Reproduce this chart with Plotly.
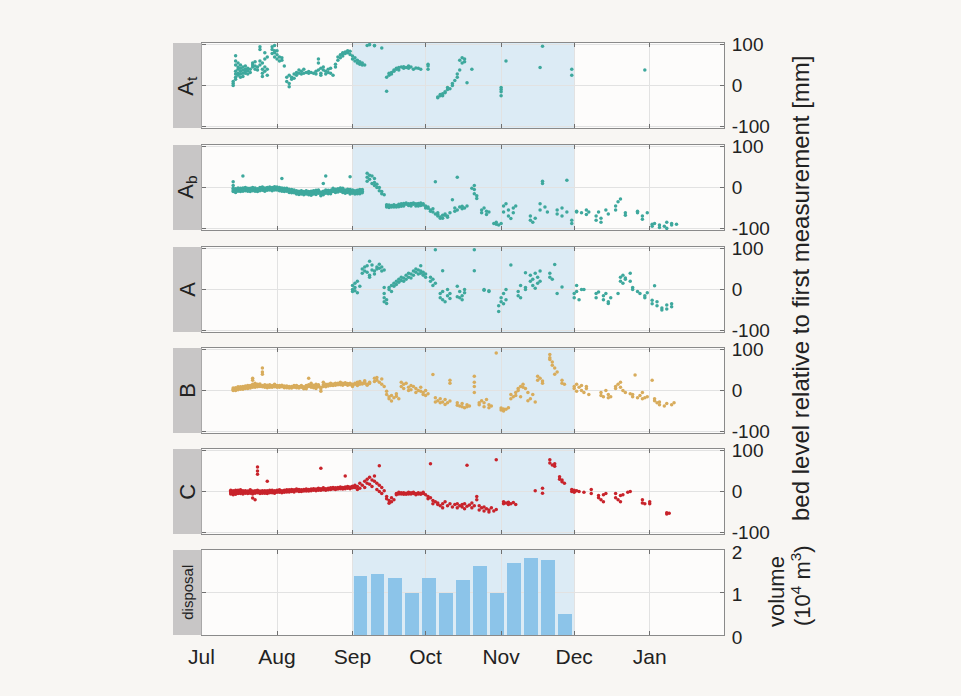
import pandas as pd
import plotly.graph_objects as go

# ---------------- data ----------------
ORIGIN = "2013-07-01"                      # day 0 of the day offsets below
X_END = "2014-01-31 12:00"
MONTH_LABELS = ["Jul", "Aug", "Sep", "Oct", "Nov", "Dec", "Jan"]
MONTH_STARTS = ["2013-07-01", "2013-08-01", "2013-09-01", "2013-10-01",
                "2013-11-01", "2013-12-01", "2014-01-01"]
DISPOSAL_PERIOD = ["2013-09-01", "2013-12-01"]
PANEL_LABELS = ["A<sub>t</sub>", "A<sub>b</sub>", "A", "B", "C", "disposal"]

# (day since 1 Jul, [bed level values in mm])
AT = [(13, [0, 5, 10]), (14, [15, 20, 28, 35, 50, 60, 73]), (15, [25, 30, 40, 45, 55]),
      (16, [20, 28, 35, 42, 50]), (17, [22, 30, 38, 45]), (18, [30, 35, 40, 48]),
      (19, [28, 36, 42]), (20, [32, 40]), (21, [45, 50, 55]), (22, [40, 48, 58]),
      (23, [38, 45]), (24, [50, 60, 88, 95]), (25, [22, 30, 40, 55]), (26, [35, 45, 65, 80]),
      (27, [25, 40, 70]), (29, [78, 88, 95]), (30, [70, 80, 85, 98]), (31, [65, 75, 85]),
      (32, [60, 70]), (33, [62, 68]), (34, [48]), (35, [10, 20]), (36, [-3, 5, 25]),
      (37, [15, 20]), (38, [18, 28]), (39, [25, 32]), (40, [30, 38]), (41, [28, 35]),
      (42, [30, 40]), (43, [32]), (44, [30, 34]), (45, [32]), (46, [30]), (47, [28, 35]),
      (48, [38, 55, 65]), (49, [25, 30, 42]), (50, [38, 45]), (51, [28, 35]), (52, [32, 40]),
      (53, [30, 42]), (54, [25]), (55, [45, 52]), (56, [62, 70]), (57, [68, 75]),
      (58, [72, 78, 80]), (59, [78, 82]), (60, [80, 85]), (61, [76, 84]), (62, [65, 72]),
      (63, [60, 68]), (64, [55, 62]), (65, [52, 58]), (66, [50, 55]), (67, [50]),
      (68, [98]), (69, [100]), (71, [97, 98]), (74, [92]), (76, [-14, 20]), (77, [25, 30]),
      (78, [28, 32]), (79, [35, 38]), (80, [40, 42]), (81, [38, 44]), (82, [45]),
      (83, [42, 46]), (84, [44]), (85, [42, 48]), (86, [45]), (87, [40]), (88, [43]),
      (89, [42]), (90, [40]), (93, [40, 48, 52]), (97, [-30, -28]), (98, [-25, -22]),
      (99, [-25, -20]), (100, [-18, -15]), (101, [-10, -5]), (102, [-8]), (103, [0, 5]),
      (104, [12]), (105, [20, 28]), (106, [38, 62]), (107, [55, 68]), (108, [58, 65]),
      (109, [7]), (111, [40]), (123, [-25, -15, -10, -5]), (125, [60]), (139, [44]),
      (140, [96]), (152, [25, 40]), (182, [38])]

AB = [(13, [-10, -6, -2, 5, 14]), (14, [-12, -7, -3]), (15, [-9, -5, -1]), (16, [-10, -6, -2]),
      (17, [-9, -5, -1, 28]), (18, [-8, -4, 0]), (19, [-9, -5, -2]), (20, [-10, -6, -2]),
      (21, [-8, -4, 0]), (22, [-9, -5, -1]), (23, [-10, -6, -3]), (24, [-8, -4, 0]),
      (25, [-7, -3, 1]), (26, [-9, -5, -1]), (27, [-7, -3, 0]), (28, [-6, -2, 1]),
      (29, [-8, -4, 0]), (30, [-6, -2, 2]), (31, [-6, -2, 1]), (32, [-8, -4, 0]),
      (33, [-9, -5, -1, 22]), (34, [-10, -6, -2]), (35, [-9, -5, -2]), (36, [-12, -8, -4]),
      (37, [-13, -9, -5]), (38, [-13, -9, -6]), (39, [-16, -12, -8]), (40, [-17, -13, -9]),
      (41, [-16, -12, -8]), (42, [-18, -14, -10]), (43, [-16, -12, -8]), (44, [-18, -14, -10]),
      (45, [-19, -14, -9]), (46, [-16, -12, -8]), (47, [-17, -12, -7]), (48, [-14, -10, -6]),
      (49, [-20, -16, -11]), (50, [-18, -14, -9, 10]), (51, [-14, -10, -6, 28]),
      (52, [-15, -11, -7]), (53, [-15, -11, -7]), (54, [-10, -6, -2]), (55, [-12, -8, -4]),
      (56, [-11, -7, -3]), (57, [-9, -5, -1]), (58, [-12, -7, -2]), (59, [-14, -10, -6]),
      (60, [-12, -8, -4]), (61, [-16, -10, -5, 26]), (62, [-14, -10, -6]), (63, [-16, -12, -8]),
      (64, [-15, -11, -7]), (65, [-15, -10, -5]), (66, [-13, -9, -5]), (68, [15, 25, 35]),
      (69, [20, 30]), (70, [10, 28]), (71, [5, 12, 22]), (72, [0, 8]), (73, [-8, 0]),
      (74, [-15, -10]), (75, [-18]), (76, [-48, -45, -42]), (77, [-49, -46, -43]),
      (78, [-48, -44]), (79, [-48, -45, -42]), (80, [-48, -44]), (81, [-47, -44, -41]),
      (82, [-46, -40]), (83, [-45, -42, -39]), (84, [-41, -38]), (85, [-44, -40]),
      (86, [-45, -42, -39]), (87, [-41, -38]), (88, [-45, -40]), (89, [-45, -42, -39]),
      (90, [-44, -38]), (91, [-43, -40]), (92, [-50, -45]), (93, [-51, -48]), (94, [-58, -55]),
      (95, [-60, -52]), (96, [-65, 14]), (97, [-70, -66, -62]), (98, [-75, -72]),
      (99, [-75, -68]), (100, [-68, -65]), (101, [-73, -70]), (102, [-62]), (103, [-30]),
      (104, [-58, -50]), (105, [-55, 25]), (106, [-48]), (107, [-52, -46]), (108, [-50]),
      (109, [-45]), (111, [-2]), (112, [-15, -5, 5]), (113, [-27, -20]), (115, [-62, -55]),
      (116, [-50]), (117, [-66, -58]), (118, [-60]), (120, [-88]), (121, [-90, -85]),
      (122, [-92]), (123, [-88]), (124, [-60, -45]), (125, [-40]), (126, [-70, -55]),
      (127, [-76]), (128, [-62, -50]), (129, [-45]), (135, [-80, -70]), (136, [-85]),
      (137, [-75]), (139, [-55, -40]), (140, [10, 15]), (141, [-48]), (142, [-60]),
      (146, [-65, -55]), (148, [-70, -50]), (150, [-60, 18]), (152, [-88, -80]),
      (154, [-60, -58]), (156, [-62]), (158, [-66, -55]), (159, [-60]), (162, [-80, -70]),
      (163, [-60]), (164, [-85, -75]), (166, [-55]), (167, [-65]), (170, [-55, -45]),
      (171, [-35]), (172, [-28]), (174, [-68, -62]), (179, [-62, -58]), (181, [-78, -70]),
      (183, [-62]), (185, [-95, -90]), (186, [-88]), (188, [-98, -92]), (190, [-95]),
      (191, [-100, -85]), (193, [-92, -88]), (195, [-90])]

A = [(62, [-5, 0, 10]), (63, [-3, 5, 15]), (64, [-8, 20]), (65, [8]), (66, [40, 50]),
     (67, [45, 55]), (68, [42, 58]), (69, [30, 35, 69]), (70, [48, 60]), (71, [38, 45]),
     (72, [50, 55]), (73, [52, 62]), (74, [45, 55]), (75, [-30, -20, -10, 5, 48]),
     (76, [-34, -25]), (77, [0, 5]), (78, [-5, 10]), (79, [8, 15]), (80, [12, 20]),
     (81, [18, 25]), (82, [22, 30]), (83, [20, 28]), (84, [25, 35]), (85, [30, 40]),
     (86, [28, 38]), (87, [35, 45]), (88, [42, 50]), (89, [38, 48]), (90, [40, 45, 58]),
     (91, [35, 42]), (92, [30, 38]), (94, [20, 30]), (95, [10, 25]), (96, [15, 97]),
     (98, [-20, -10]), (99, [-25, -5, 46]), (100, [-30]), (101, [-15, 0]), (102, [-22, -10]),
     (105, [-18, 8]), (106, [-20, -5]), (107, [-25, -15]), (108, [-8, 0]), (112, [46, 97]),
     (116, [-2, 0]), (118, [-5, -3]), (122, [-54, -40]), (123, [-30, -20]), (124, [-35, -10]),
     (125, [-25, 0]), (127, [60]), (130, [-15, -5]), (131, [-20, 10]), (133, [0, 5, 41]),
     (135, [20, 35]), (136, [10, 25]), (137, [3, 40]), (138, [15, 30]), (139, [20, 45]),
     (143, [30, 40]), (144, [25]), (145, [61]), (146, [-10]), (148, [6]),
     (153, [-20, -10]), (154, [-5, 10]), (155, [-25]), (156, [0]), (157, [0]),
     (162, [-20, -10]), (163, [-6]), (165, [-25, -15]), (166, [-10]), (167, [-34, -30]),
     (168, [-20]), (171, [-10]), (172, [20, 30]), (173, [15, 35]), (174, [25, 28]),
     (176, [20, 40]), (177, [0, 5]), (179, [-5]), (180, [-10]), (182, [-20, -15]),
     (183, [-8]), (185, [-35, -26]), (186, [9]), (187, [-40, -30]), (189, [-50, -45]),
     (191, [-48, -38]), (193, [-42, -35])]

B = [(13, [0, 3, 6]), (14, [0, 4, 7]), (15, [2, 6, 9]), (16, [3, 6, 9]), (17, [3, 6, 10]),
     (18, [5, 8, 11]), (19, [5, 8, 12]), (20, [6, 9, 12]), (21, [8, 12, 15, 25, 30]),
     (22, [8, 12, 18]), (23, [9, 12, 15]), (24, [10, 13, 16]), (25, [9, 12, 40, 45, 55]),
     (26, [8, 11, 14]), (27, [7, 10, 13]), (28, [8, 11, 14]), (29, [8, 10, 12]), (30, [9, 12, 15]),
     (31, [8, 10, 12]), (32, [8, 10, 12]), (33, [9, 11, 13]), (34, [7, 9, 11]), (35, [7, 9, 11]),
     (36, [6, 8, 10]), (37, [6, 8, 10]), (38, [8, 10, 12]), (39, [7, 9, 12]), (40, [6, 8, 10]),
     (41, [8, 10, 12]), (42, [4, 6, 9]), (43, [4, 8, 12]), (44, [10, 14, 30]), (45, [8, 12, 18]),
     (46, [7, 10, 13]), (47, [5, 10, 15]), (48, [9, 12, 14]), (49, [-2, 4, 8]),
     (50, [10, 14, 20]), (51, [9, 12, 15]), (52, [11, 13, 15]), (53, [12, 15, 18]),
     (54, [12, 14, 16]), (55, [13, 16, 18]), (56, [14, 16, 18]), (57, [14, 17, 20]),
     (58, [13, 16, 18]), (59, [15, 17, 19]), (60, [13, 15, 17]), (61, [14, 16, 18]),
     (62, [10, 13, 15]), (63, [15, 18]), (64, [12, 16, 20]), (65, [15, 18, 22]), (66, [16, 18]),
     (67, [18, 21, 24]), (68, [13, 15]), (69, [17, 20]), (71, [22, 30]), (72, [25, 32]),
     (73, [20]), (74, [15, 28]), (75, [10]), (76, [-10, -2]), (77, [-20, -15]),
     (78, [-26, -12]), (79, [-18]), (80, [-14, -8]), (81, [-20]), (82, [10, 20]), (83, [5, 15]),
     (84, [18]), (85, [0, 8]), (86, [2, 12]), (87, [10]), (88, [-5, 5]), (89, [0]),
     (90, [-2, 8]), (91, [-10, -5]), (92, [-12, 0]), (93, [-8]), (95, [39]), (96, [-28, -18]),
     (97, [-25]), (98, [-30, -20]), (99, [-28]), (100, [-34, -22]), (101, [-30]),
     (102, [-26, 18, 25]), (105, [-36, -30]), (106, [-38]), (107, [-40, -32]), (108, [-42]),
     (109, [-40, -35]), (110, [-38]), (112, [-5, 10, 20, 35]), (114, [-35, -30]), (115, [-25]),
     (116, [-40, -30]), (117, [-22]), (118, [-42, -35]), (119, [-38]), (121, [92]),
     (123, [-48, -43]), (124, [-50, -45]), (125, [-46]), (126, [-42]), (127, [-20, -10]),
     (128, [-15]), (129, [-12, -5]), (130, [0, 5]), (131, [-15, 10]), (132, [8, 15]), (133, [5]),
     (134, [-25, -5]), (135, [-20]), (136, [-10]), (137, [-28]), (138, [25, 35]), (139, [30]),
     (140, [18, 23]), (143, [76, 80, 88]), (144, [62, 70]), (145, [40, 55]), (146, [45]),
     (148, [18, 25]), (149, [15]), (153, [5, 10]), (154, [-2, 15]), (155, [8]), (156, [0, 12]),
     (157, [-5]), (158, [5, 10]), (159, [-10]), (164, [-12, -5]), (165, [-15]), (166, [0]),
     (167, [-18, -10]), (168, [-15]), (170, [5, 10]), (171, [15]), (172, [8, 20]), (173, [0]),
     (174, [-5]), (176, [-8]), (177, [-15, -10]), (178, [38]), (179, [-18]), (180, [-12]),
     (181, [-20, -5]), (182, [-18]), (183, [-15]), (185, [25]), (186, [-25, -20]), (187, [-30]),
     (188, [-35, -28]), (190, [-38]), (191, [-32]), (193, [-35]), (194, [-30])]

C = [(12, [-6, -3, 0, 3]), (13, [-8, -4, -1, 2]), (14, [-7, -3, 0, 3]), (15, [-5, -2, 1, 3]),
     (16, [-5, -2, 1, 4]), (17, [-6, -3, 0, 2]), (18, [-4, -1, 2]), (19, [-5, -2, 1]),
     (20, [-4, -1, 2, 4]), (21, [-16, -6, -2, 1]), (22, [-20, -4, -1, 2]),
     (23, [-3, 0, 3, 42, 50, 60]), (24, [-5, -2, 1]), (25, [-4, -1, 2]), (26, [-4, -1, 2]),
     (27, [-5, -1, 2, 25]), (28, [-3, 0, 3]), (29, [-3, 0, 3]), (30, [-4, -1, 2]),
     (31, [-2, 1, 3]), (32, [-2, 1, 4]), (33, [-3, 0, 2]), (34, [-2, 1, 3]), (35, [-1, 2, 4]),
     (36, [-1, 1, 4]), (37, [0, 2, 5]), (38, [-1, 2, 4]), (39, [1, 3, 6]), (40, [0, 3, 5]),
     (41, [0, 2, 4]), (42, [1, 3, 5]), (43, [1, 4, 6]), (44, [1, 3, 5]), (45, [2, 4, 6]),
     (46, [3, 5, 7]), (47, [2, 4, 6]), (48, [3, 6, 8]), (49, [3, 5, 7, 57]), (50, [4, 6, 9]),
     (51, [3, 5, 7]), (52, [4, 6, 8]), (53, [5, 7, 9]), (54, [6, 8, 10]), (55, [5, 7, 9]),
     (56, [6, 8, 10]), (57, [7, 9, 11]), (58, [6, 8, 10]), (59, [7, 9, 11, 38]),
     (60, [8, 10, 12]), (61, [7, 9, 11]), (62, [9, 11, 13]), (63, [10, 15]), (64, [5, 12]),
     (65, [8, 20]), (66, [15]), (67, [10, 25]), (68, [20, 30]), (69, [18, 35]), (70, [12, 28]),
     (71, [25, 38]), (72, [5, 20]), (73, [0, 15, 63]), (74, [-5, 10]), (75, [2]),
     (76, [-18, -12]), (77, [-29, -22]), (78, [-25, -15]), (79, [-20]), (80, [-8, -5]),
     (81, [-6, -2]), (82, [-6, -3]), (83, [-7, -3]), (84, [-7, -4]), (85, [-6, -2]),
     (86, [-6, -3]), (87, [-5, -2]), (88, [-8, -5]), (89, [-6, -3]), (90, [-7, -4]),
     (91, [-5, -2]), (92, [-8]), (93, [-18, -12]), (94, [-15, 68]), (95, [-30, -22]),
     (96, [-25]), (97, [-32, -28]), (98, [-35]), (99, [-40, -30]), (100, [-25]), (101, [-35]),
     (102, [-30]), (103, [-38]), (104, [-32]), (105, [-40, -30]), (106, [-35]),
     (107, [-38, -32]), (108, [-42, -30]), (109, [-36, 64]), (110, [-33]), (111, [-40, -28]),
     (112, [-35]), (113, [-20, -12]), (114, [-45, -35]), (115, [-40]), (116, [-48, -38]),
     (117, [-42]), (118, [-50, -45]), (119, [-40]), (120, [-48]), (121, [-44, 78]),
     (124, [-30, -25]), (125, [-28]), (126, [-32, -26]), (127, [-30]), (128, [-27]),
     (129, [-32]), (137, [2]), (140, [-4, 8]), (143, [70, 78]), (144, [65]), (145, [62, 68]),
     (147, [30, 36]), (148, [24, 28]), (149, [20]), (152, [0, 5]), (153, [-2, 3]), (154, [2]),
     (155, [0]), (157, [-2]), (160, [-5, 5]), (163, [-15, -10]), (164, [-20]),
     (165, [-25, -8]), (166, [-5]), (170, [-15, -5]), (171, [-20]), (172, [-25, -10]),
     (173, [-8]), (175, [-2]), (176, [0]), (181, [-28, -20]), (182, [-30]), (184, [-30, -25]),
     (191, [-55, -52]), (192, [-53])]

# weekly disposal volume (10^4 m^3), weeks starting on these dates
WEEK_STARTS = ["2013-09-01", "2013-09-08", "2013-09-15", "2013-09-22", "2013-09-29",
               "2013-10-06", "2013-10-13", "2013-10-20", "2013-10-27", "2013-11-03",
               "2013-11-10", "2013-11-17", "2013-11-24"]
VOLUME = [1.40, 1.44, 1.34, 0.98, 1.34, 0.98, 1.29, 1.63, 0.99, 1.70, 1.82, 1.76, 0.49]

SERIES = [(AT, "#3ea89d"), (AB, "#3ea89d"), (A, "#3ea89d"), (B, "#d8ac5c"), (C, "#c8232b")]

# ---------------- layout geometry (pixels) ----------------
W, H = 961, 696
PLOT_X0, PLOT_X1 = 201.5, 724
LABEL_X0 = 173
PANEL_TOPS = [43, 145, 247, 348, 449, 550]
PANEL_H = 85
FONT = "Liberation Sans, Arial, sans-serif"
XTICK_SIZE = 21
YTICK_SIZE = 19
TITLE_SIZE = 24

origin = pd.Timestamp(ORIGIN)


def expand(series):
    xs, ys = [], []
    for day, vals in series:
        for v in vals:
            xs.append(origin + pd.Timedelta(days=day))
            ys.append(v)
    return xs, ys


fig = go.Figure()

for i, (ser, col) in enumerate(SERIES):
    xs, ys = expand(ser)
    fig.add_trace(go.Scatter(
        x=xs, y=ys, mode="markers",
        marker=dict(size=3.5, color=col, line=dict(width=0)),
        xaxis=f"x{i + 1}" if i else "x", yaxis=f"y{i + 1}" if i else "y",
        showlegend=False, hoverinfo="x+y"))

bar_x = [pd.Timestamp(d) + pd.Timedelta(days=3.1) for d in WEEK_STARTS]
fig.add_trace(go.Bar(
    x=bar_x, y=VOLUME, width=5.6 * 86400000,
    marker=dict(color="#8cc4e9", line=dict(width=0)),
    xaxis="x6", yaxis="y6", showlegend=False))

layout = dict(
    width=W, height=H, margin=dict(l=0, r=0, t=0, b=0, autoexpand=False),
    paper_bgcolor="#f8f6f3", plot_bgcolor="#fdfcfb",
    font=dict(family=FONT, size=YTICK_SIZE, color="#222222"),
    bargap=0,
)
shapes = []
annotations = []

for k in range(6):
    top = PANEL_TOPS[k]
    bot = top + PANEL_H
    ydom = [1 - bot / H, 1 - top / H]
    xname = "xaxis" if k == 0 else f"xaxis{k + 1}"
    yname = "yaxis" if k == 0 else f"yaxis{k + 1}"
    xref = "x" if k == 0 else f"x{k + 1}"
    yref = "y" if k == 0 else f"y{k + 1}"
    last = k == 5
    layout[xname] = dict(
        domain=[PLOT_X0 / W, PLOT_X1 / W], anchor=yref, automargin=False,
        type="date", range=[ORIGIN, X_END],
        tickvals=MONTH_STARTS, ticktext=MONTH_LABELS,
        showticklabels=last, ticks="inside", ticklen=4, tickcolor="#707070",
        showline=True, linecolor="#8a8a8a", linewidth=1, mirror="ticks",
        showgrid=True, gridcolor="#e2e2e2", gridwidth=1, zeroline=False,
        tickfont=dict(size=XTICK_SIZE, color="#222222"), ticklabelstandoff=3,
    )
    if k:
        layout[xname]["matches"] = "x"
    if last:
        yr, tv, tt = [0, 2], [0, 1, 2], ["0", "1", "2"]
    else:
        yr, tv, tt = [-104, 104], [-100, 0, 100], ["-100", "0", "100"]
    layout[yname] = dict(
        domain=ydom, anchor=xref, side="right", range=yr, automargin=False,
        tickvals=tv, ticktext=tt, ticks="inside", ticklen=4, tickcolor="#707070",
        showline=True, linecolor="#8a8a8a", linewidth=1, mirror="ticks",
        showgrid=True, gridcolor="#e2e2e2", gridwidth=1, zeroline=False,
        tickfont=dict(size=YTICK_SIZE, color="#222222"), ticklabelstandoff=3,
    )
    if last:
        layout[yname]["ticklabelshift"] = 2
    # disposal period shading
    shapes.append(dict(type="rect", xref=xref, yref=f"{yref} domain",
                       x0=DISPOSAL_PERIOD[0], x1=DISPOSAL_PERIOD[1], y0=0, y1=1,
                       fillcolor="#dcebf5", line=dict(width=0), layer="below"))
    # grey label box
    shapes.append(dict(type="rect", xref="paper", yref="paper",
                       x0=LABEL_X0 / W, x1=PLOT_X0 / W, y0=ydom[0], y1=ydom[1],
                       fillcolor="#c8c6c6", line=dict(width=0), layer="above"))
    annotations.append(dict(
        x=(LABEL_X0 + PLOT_X0) / 2 / W, y=(ydom[0] + ydom[1]) / 2,
        xref="paper", yref="paper", text=PANEL_LABELS[k], showarrow=False,
        textangle=-90, xanchor="center", yanchor="middle",
        font=dict(size=15 if last else 22, color="#222222")))

annotations.append(dict(
    x=801 / W, y=1 - 288 / H, xref="paper", yref="paper",
    text="bed level relative to first measurement [mm]", showarrow=False,
    textangle=-90, xanchor="center", yanchor="middle", font=dict(size=TITLE_SIZE)))
annotations.append(dict(
    x=776 / W, y=1 - 592 / H, xref="paper", yref="paper",
    text="volume", showarrow=False,
    textangle=-90, xanchor="center", yanchor="middle", font=dict(size=22)))
annotations.append(dict(
    x=801 / W, y=1 - 586 / H, xref="paper", yref="paper",
    text="(10<sup>4</sup> m<sup>3</sup>)", showarrow=False,
    textangle=-90, xanchor="center", yanchor="middle", font=dict(size=22)))

layout["shapes"] = shapes
layout["annotations"] = annotations
fig.update_layout(**layout)
fig.write_html("out.html")
